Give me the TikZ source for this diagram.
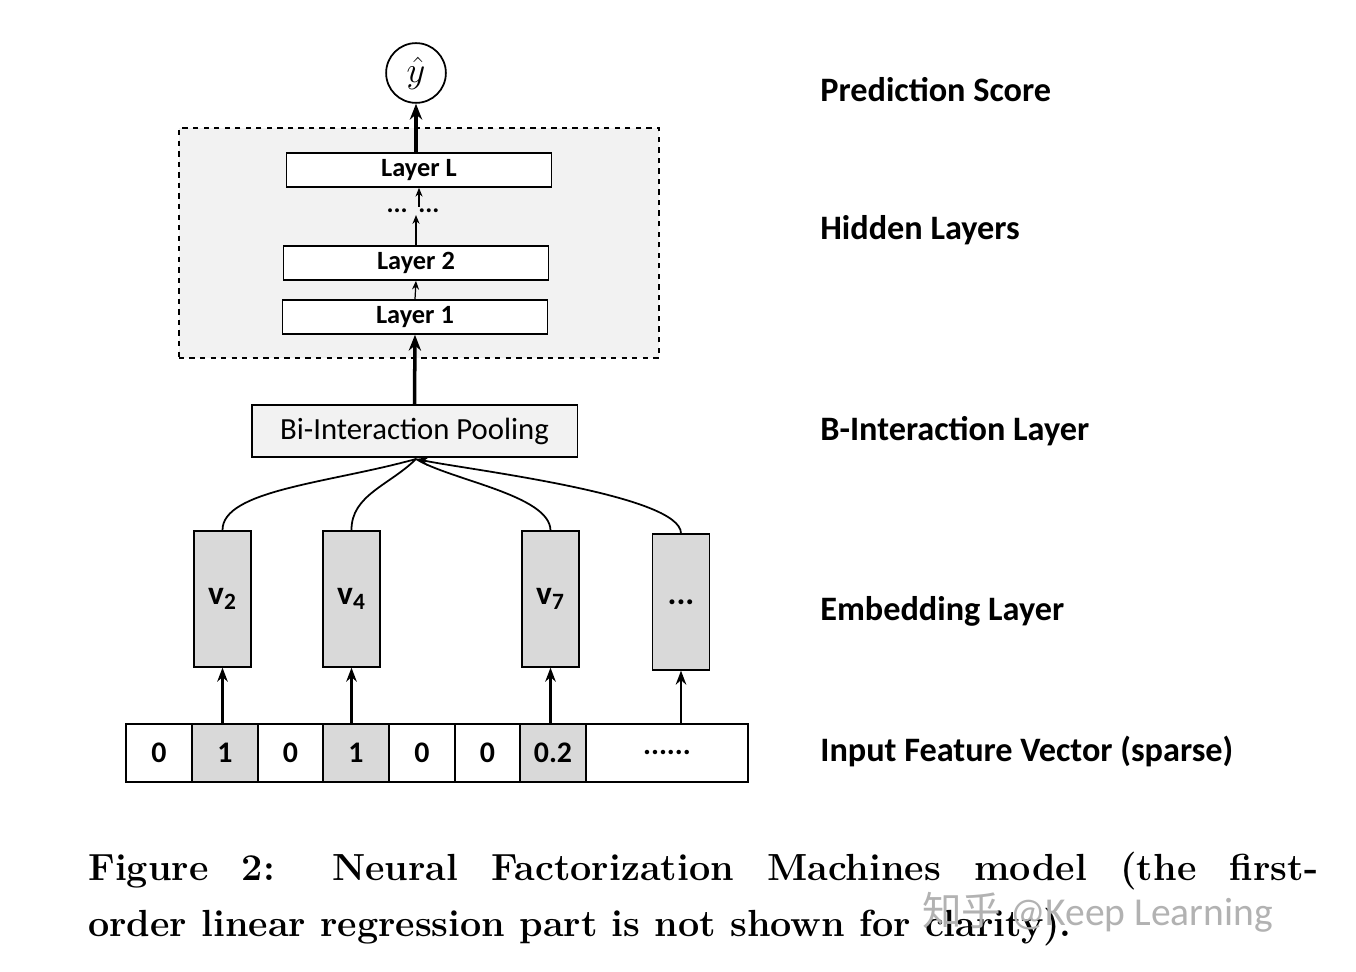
\documentclass[tikz,border=0pt]{standalone}
\usepackage{fontspec}
\setmainfont{Carlito}
\newfontfamily\capfont{Latin Modern Roman}
\newfontfamily\cjkf{Noto Sans CJK SC}
\usetikzlibrary{arrows.meta}
\definecolor{cellgray}{RGB}{217,217,217}
\definecolor{boxgray}{RGB}{242,242,242}
\newcommand\mysixdots{......}
\tikzset{
 lay/.style={draw,line width=1pt,fill=white,minimum width=266*0.567pt,minimum height=34*0.567pt,inner sep=0pt,font=\fontsize{15}{15}\selectfont\bfseries},
 emb/.style={draw,line width=1pt,fill=cellgray,minimum width=57*0.567pt,minimum height=136*0.567pt,inner sep=0pt,font=\fontsize{19}{19}\selectfont\bfseries},
 cell/.style={draw,line width=1pt,minimum height=58*0.567pt,inner sep=0pt,font=\fontsize{17}{17}\selectfont\bfseries},
 lbl/.style={anchor=west,inner sep=0pt,font=\fontsize{19.5}{19.5}\selectfont\bfseries},
 big/.style={-{Stealth[length=9pt,width=7pt]},line width=2pt},
 sm/.style={-{Stealth[length=5pt,width=4pt]},line width=0.7pt},
 mid/.style={-{Stealth[length=8pt,width=6pt]},line width=1.2pt},
 crv/.style={line width=1pt}
}
\begin{document}
\begin{tikzpicture}[x=0.02cm,y=-0.02cm]
\useasboundingbox (0,0) rectangle (1356,972);
\fill[white] (0,0) rectangle (1356,972);
\node[draw,fill=boxgray,dashed,line width=1.2pt,minimum width=482*0.567pt,minimum height=230*0.567pt,inner sep=0pt] (hid) at (419,243) {};
\node[draw,circle,line width=1pt,minimum size=60*0.567pt,inner sep=0pt,font=\fontsize{22}{22}\selectfont] (y) at (416,73) {$\hat{y}$};
\node[lay] (LL) at (419,170) {Layer L};
\node[inner sep=1pt,font=\fontsize{15}{15}\selectfont\bfseries] (dots) at (413,211) {...\hspace{6pt}...};
\node[lay] (L2) at (416,263) {Layer 2};
\node[lay] (L1) at (415,317) {Layer 1};
\node[draw,fill=boxgray,line width=1pt,minimum width=327*0.567pt,minimum height=52*0.567pt,inner sep=0pt,font=\fontsize{17.5}{17.5}\selectfont] (bi) at (414.5,431) {Bi-Interaction Pooling};
\coordinate (bt) at (416,459);
\draw[big] (y.south |- LL.north) -- (y.south);
\draw[sm] (dots.north -| LL.south) ++(0,0) -- (LL.south);
\draw[sm] (L2.north) -- (L2.north |- dots.south);
\draw[sm] (L1.north) -- (L2.south);
\draw[big] (bi.north) -- (L1.south);
\node[emb] (v2) at (222.5,599) {v\textsubscript{2}};
\node[emb] (v4) at (351.5,599) {v\textsubscript{4}};
\node[emb] (v7) at (550.5,599) {v\textsubscript{7}};
\node[emb] (vd) at (681,602) {...};
\draw[crv] (v2.north) .. controls (222,490) and (330,483) .. (bt);
\draw[crv] (v4.north) .. controls (351,495) and (390,485) .. (bt);
\draw[crv] (v7.north) .. controls (550,495) and (450,480) .. (bt);
\draw[crv,-{Stealth[length=7pt,width=5pt]}] (vd.north) .. controls (681,495) and (470,470) .. (bt);
\foreach \n/\a/\b/\t/\f in {c1/126/192/0/white,c2/192/258/1/cellgray,c3/258/323/0/white,c4/323/389/1/cellgray,c5/389/455/0/white,c6/455/520/0/white,c7/520/586/0.2/cellgray,c8/586/748/\mysixdots/white}{
 \node[cell,fill=\f,minimum width={(\b-\a)*0.567pt}] (\n) at ({(\a+\b)/2},753) {\t};
}
\draw[mid] (c2.north -| v2.south) -- (v2.south);
\draw[mid] (c4.north -| v4.south) -- (v4.south);
\draw[mid] (c7.north -| v7.south) -- (v7.south);
\draw[mid] (c8.north -| vd.south) -- (vd.south);
\node[lbl] (t1) at (820,90) {Prediction Score};
\node[lbl] (t2) at (820,230) {Hidden Layers};
\node[lbl] (t3) at (820,431) {B-Interaction Layer};
\node[lbl] (t4) at (820,611) {Embedding Layer};
\node[lbl] (t5) at (820,751) {Input Feature Vector (sparse)};
\node[anchor=base west,inner sep=0pt,font=\capfont\bfseries\fontsize{21.5}{21.5}\selectfont] (cap1) at (88,880) {\makebox[700pt][s]{Figure 2: Neural Factorization Machines model (the first-}};
\node[anchor=base west,inner sep=0pt,font=\capfont\bfseries\fontsize{21.5}{21.5}\selectfont] (cap2) at (88,936) {order linear regression part is not shown for clarity).};
\node[anchor=base west,inner sep=0pt,text=black!30,font=\fontsize{22.5}{22.5}\selectfont] (wm) at (922,925) {{\cjkf 知乎} @Keep Learning};
\end{tikzpicture}
\end{document}
